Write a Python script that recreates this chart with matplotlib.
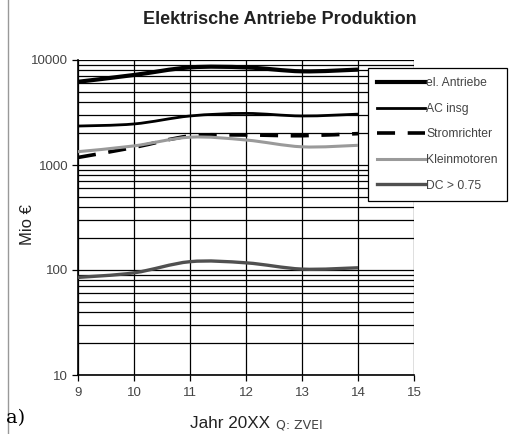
import numpy as np
import matplotlib
matplotlib.use('Agg')
import matplotlib.pyplot as plt
from matplotlib.path import Path
from matplotlib.patches import PathPatch
from matplotlib.lines import Line2D

plt.rcParams['font.family'] = ['Liberation Sans', 'DejaVu Sans']

# Data (Mio EUR)
years = [9, 10, 11, 12, 13, 14]
el_antriebe = [6200, 7200, 8500, 8500, 7800, 8100]
ac_insg = [2350, 2460, 2930, 3100, 2930, 3050]
stromrichter = [1180, 1470, 1890, 1930, 1900, 1990]
kleinmotoren = [1340, 1520, 1840, 1730, 1490, 1540]
dc_075 = [85, 94, 120, 117, 102, 105]

series = [
    ("el. Antriebe", el_antriebe, dict(color='black', lw=3.0, ls='-')),
    ("AC insg", ac_insg, dict(color='black', lw=2.0, ls='-')),
    ("Stromrichter", stromrichter, dict(color='black', lw=2.6, ls=(0, (5, 3.5)))),
    ("Kleinmotoren", kleinmotoren, dict(color='#9a9a9a', lw=2.2, ls='-')),
    ("DC > 0.75", dc_075, dict(color='#505050', lw=2.4, ls='-')),
]


def smooth_path(x, y):
    # Excel-like smoothed line: Catmull-Rom -> cubic bezier, in log space
    x = np.asarray(x, float)
    ly = np.log10(np.asarray(y, float))
    px = np.concatenate([[x[0]], x, [x[-1]]])
    py = np.concatenate([[ly[0]], ly, [ly[-1]]])
    verts = [(x[0], ly[0])]
    codes = [Path.MOVETO]
    for i in range(1, len(px) - 2):
        c1 = (px[i] + (px[i + 1] - px[i - 1]) / 6, py[i] + (py[i + 1] - py[i - 1]) / 6)
        c2 = (px[i + 1] - (px[i + 2] - px[i]) / 6, py[i + 1] - (py[i + 2] - py[i]) / 6)
        verts += [c1, c2, (px[i + 1], py[i + 1])]
        codes += [Path.CURVE4] * 3
    verts = [(vx, 10 ** vy) for vx, vy in verts]
    return Path(verts, codes)


fig = plt.figure(figsize=(5.11, 4.34), dpi=100)
ax = fig.add_axes([78 / 511, 1 - 375 / 434, 336 / 511, 315 / 434])

ax.set_yscale('log')
ax.set_xlim(9, 15)
ax.set_ylim(10, 10000)
ax.set_xticks(range(9, 16))
ax.set_yticks([10, 100, 1000, 10000])
ax.set_yticklabels(['10', '100', '1000', '10000'])
ax.yaxis.set_minor_formatter(plt.NullFormatter())
ax.grid(True, which='both', axis='y', color='black', lw=0.9)
ax.grid(True, which='major', axis='x', color='black', lw=0.9)
ax.tick_params(axis='y', which='minor', length=0)
ax.tick_params(axis='both', which='major', length=4, width=0.9, labelsize=9.5,
               labelcolor='#444444', pad=3)
ax.tick_params(axis='x', pad=5)
for s in ['top', 'right']:
    ax.spines[s].set_visible(False)
for s in ['left', 'bottom']:
    ax.spines[s].set_linewidth(1.2)

handles = []
for name, vals, st in series:
    patch = PathPatch(smooth_path(years, vals), fill=False, edgecolor=st['color'],
                      lw=st['lw'], ls=st['ls'], capstyle='butt', zorder=3)
    ax.add_patch(patch)
    handles.append(Line2D([], [], color=st['color'], lw=st['lw'], ls=st['ls'], label=name))

leg = fig.legend(handles=handles, loc='upper left',
                 bbox_to_anchor=(368 / 511, 1 - 68 / 434), borderaxespad=0,
                 fontsize=8.7, handlelength=3.9, handletextpad=0.15,
                 labelspacing=1.12, borderpad=0.78, fancybox=False,
                 edgecolor='black', framealpha=1)
leg.get_frame().set_linewidth(0.9)
for t in leg.get_texts():
    t.set_color('#444444')

fig.text(280 / 511, 1 - 20 / 434, 'Elektrische Antriebe Produktion',
         ha='center', va='center', fontsize=13, fontweight='bold', color='#222222')
fig.text(28 / 511, 1 - 225 / 434, 'Mio €', rotation=90, ha='center', va='center',
         fontsize=12, color='#222222')
fig.text(230 / 511, 1 - 424 / 434, 'Jahr 20XX', ha='center', va='center',
         fontsize=12.3, color='#222222')
fig.text(276 / 511, 1 - 425 / 434, 'Q: ZVEI', ha='left', va='center',
         fontsize=9, family=['DejaVu Sans'], color='#444444')
fig.text(6 / 511, 1 - 418 / 434, 'a)', ha='left', va='center', fontsize=14,
         family=['DejaVu Serif'], color='black')
fig.add_artist(Line2D([8 / 511, 8 / 511], [0, 1], transform=fig.transFigure,
                      color='#999999', lw=1))

fig.savefig('out.png', dpi=100)
